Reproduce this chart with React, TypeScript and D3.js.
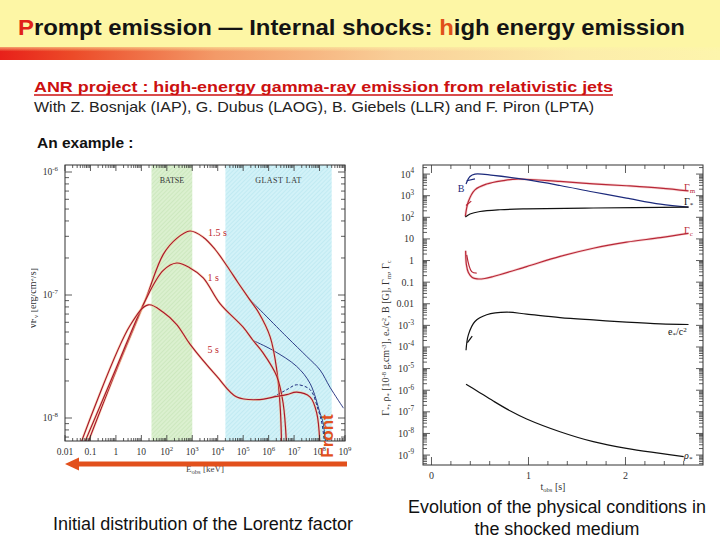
import React from 'react';
import * as d3 from 'd3';

// ---------- header texts ----------
const titleText = ['P', 'rompt emission — Internal shocks: ', 'h', 'igh energy emission'];
const anrText = 'ANR project : high-energy gamma-ray emission from relativistic jets';
const withText = 'With Z. Bosnjak (IAP), G. Dubus (LAOG), B. Giebels (LLR) and F. Piron (LPTA)';
const exampleText = 'An example :';
const captionLeft = 'Initial distribution of the Lorentz factor';
const captionRight = ['Evolution of the physical conditions in', 'the shocked medium'];

// ---------- left chart (spectra) ----------
const leftXTicks = [0.01, 0.1, 1, 10, 1e2, 1e3, 1e4, 1e5, 1e6, 1e7, 1e8, 1e9];
const leftXLabels: [string, string][] = [['0.01', ''], ['0.1', ''], ['1', ''], ['10', ''], ['10', '2'], ['10', '3'], ['10', '4'], ['10', '5'], ['10', '6'], ['10', '7'], ['10', '8'], ['10', '9']];
const leftYTicks = [1e-6, 1e-7, 1e-8];
const leftYLabels = ['-6', '-7', '-8'];
const batseBand = [25, 1000];
const glastBand = [2e4, 3e8];
// [log10 E(keV), log10 νFν]
const spec15sRed = [[-1.08, -8.19], [0.0, -7.62], [1.14, -7.05], [1.86, -6.67], [2.39, -6.54], [2.91, -6.48], [3.43, -6.53], [3.9, -6.63], [4.35, -6.76], [4.8, -6.9], [5.23, -7.03], [5.6, -7.14], [6.06, -7.34], [6.32, -7.61], [6.46, -7.93], [6.51, -8.25]];
const spec15sBlue = [[5.23, -7.03], [6.71, -7.34], [7.5, -7.5], [8.02, -7.61], [8.41, -7.75], [8.94, -7.92]];
const spec1sRed = [[-1.21, -8.19], [0.0, -7.6], [1.14, -7.05], [1.86, -6.8], [2.39, -6.74], [2.91, -6.78], [3.43, -6.86], [4.09, -7.07], [4.99, -7.26], [5.39, -7.37], [5.78, -7.47], [6.32, -7.66], [6.57, -7.88], [6.71, -8.25]];
const spec1sBlue = [[5.39, -7.37], [6.17, -7.45], [7.1, -7.58], [7.63, -7.72], [8.02, -7.96], [8.14, -8.04], [8.26, -8.25]];
const spec5sRed = [[-1.35, -8.19], [0.55, -7.25], [1.27, -7.08], [1.86, -7.14], [2.39, -7.24], [2.91, -7.4], [3.96, -7.66], [4.75, -7.83], [5.66, -7.85], [6.17, -7.83], [6.71, -7.81], [7.1, -7.79], [7.63, -7.83], [7.89, -7.96], [8.02, -8.25]];
const spec5sBlue = [[6.17, -7.83], [6.71, -7.77], [7.1, -7.73], [7.63, -7.77], [7.94, -7.93], [8.09, -8.04], [8.22, -8.25]];
const specLabels = [{ t: '1.5  s', e: 3.62, f: -6.52 }, { t: '1  s', e: 3.6, f: -6.89 }, { t: '5  s', e: 3.6, f: -7.47 }];

// ---------- right chart (physical conditions) ----------
const rightXTicks = [0, 1, 2];
const rightYTicks = [1e4, 1e3, 1e2, 10, 1, 0.1, 0.01, 1e-3, 1e-4, 1e-5, 1e-6, 1e-7, 1e-8, 1e-9];
const rightYLabels: [string, string][] = [['10', '4'], ['10', '3'], ['10', '2'], ['10', ''], ['1', ''], ['0.1', ''], ['0.01', ''], ['10', '-3'], ['10', '-4'], ['10', '-5'], ['10', '-6'], ['10', '-7'], ['10', '-8'], ['10', '-9']];
// [t_obs (s), log10 value]
const seriesB = [[0.356, 3.54], [0.397, 3.89], [0.448, 4.0], [0.637, 3.94], [0.981, 3.74], [1.325, 3.47], [1.668, 3.17], [2.01, 2.89], [2.36, 2.61], [2.65, 2.47]];
const seriesB2 = [[0.363, 3.69], [0.448, 3.78]];
const seriesGm = [[0.349, 2.04], [0.38, 2.73], [0.448, 3.27], [0.569, 3.54], [0.74, 3.7], [0.878, 3.77], [1.325, 3.66], [1.668, 3.55], [2.01, 3.46], [2.36, 3.35], [2.65, 3.22]];
const seriesGm2 = [[0.356, 2.55], [0.41, 2.75]];
const seriesGs = [[0.349, 2.01], [0.397, 2.15], [0.5, 2.27], [0.706, 2.35], [0.981, 2.39], [1.668, 2.43], [2.65, 2.47]];
const seriesGc = [[0.352, 0.45], [0.36, -0.2], [0.38, -0.55], [0.42, -0.78], [0.47, -0.85], [0.55, -0.83], [0.637, -0.74], [0.981, -0.28], [1.325, 0.19], [1.668, 0.57], [2.01, 0.85], [2.36, 1.06], [2.65, 1.26]];
const seriesGc2 = [[0.363, 0.26], [0.414, -0.51], [0.466, -0.58]];
const seriesE = [[0.356, -4.15], [0.38, -3.44], [0.448, -2.82], [0.569, -2.51], [0.776, -2.39], [0.981, -2.48], [1.325, -2.64], [1.668, -2.75], [2.01, -2.85], [2.36, -2.93], [2.65, -2.96]];
const seriesE2 = [[0.37, -3.8], [0.42, -3.5]];
const seriesRho = [[0.356, -5.72], [0.466, -6.02], [0.637, -6.5], [0.809, -6.95], [0.981, -7.33], [1.325, -7.92], [1.668, -8.38], [2.01, -8.69], [2.36, -8.92], [2.6, -9.07]];

// ---------- scales ----------
const xL = d3.scaleLog().domain([0.01, 1e9]).range([65, 345]);
const yL = d3.scaleLog().domain([10 ** -8.187, 10 ** -5.943]).range([441, 165]);
const xR = d3.scaleLinear().domain([-0.0876, 2.799]).range([423, 703]);
const yR = d3.scaleLog().domain([10 ** -9.46, 10 ** 4.42]).range([465, 165]);

const lineL = d3.line<number[]>().x(d => xL(10 ** d[0])).y(d => yL(10 ** d[1])).curve(d3.curveCatmullRom.alpha(0.5));
const lineR = d3.line<number[]>().x(d => xR(d[0])).y(d => yR(10 ** d[1])).curve(d3.curveCatmullRom.alpha(0.5));

function logMinor(lo: number, hi: number) {
  const out: { v: number; major: boolean }[] = [];
  for (let e = Math.floor(Math.log10(lo)); e <= Math.ceil(Math.log10(hi)); e++) {
    for (let m = 1; m <= 9; m++) {
      const v = m * 10 ** e;
      if (v >= lo * 0.999 && v <= hi * 1.001) out.push({ v, major: m === 1 });
    }
  }
  return out;
}

const SERIF = '"Liberation Serif", "DejaVu Serif", serif';
const SANS = '"Liberation Sans", Arial, sans-serif';

function Pow({ x, y, base, exp, anchor = 'middle', size = 10, fill = '#333' }: any) {
  return (
    <text x={x} y={y} textAnchor={anchor} fontSize={size} fontFamily={SERIF} fill={fill}>
      {base}
      {exp ? <tspan dy={-size * 0.42} fontSize={size * 0.72}>{exp}</tspan> : null}
    </text>
  );
}

export default function App() {
  const [lx0, lx1] = xL.range();
  const [ly0, ly1] = yL.range();
  const [rx0, rx1] = xR.range();
  const [ry0, ry1] = yR.range();

  const lxTicks = logMinor(0.01, 1e9);
  const lyTicks = logMinor(yL.domain()[0], yL.domain()[1]);
  const ryTicks = logMinor(yR.domain()[0], yR.domain()[1]);
  const rxTicks = d3.range(0, 2.8, 0.2).map(v => ({ v, major: Math.abs(v - Math.round(v)) < 1e-6 }));

  const redC = '#a8162c';
  const halo = '#f6c58e';
  const blueC = '#1c2a7c';

  const redPath = (d: number[][], key: string) => (
    <g key={key}>
      <path d={lineL(d) || ''} fill="none" stroke={halo} strokeWidth={2.6} opacity={0.55} />
      <path d={lineL(d) || ''} fill="none" stroke={redC} strokeWidth={1.15} />
    </g>
  );

  return (
    <svg width={720} height={540} viewBox="0 0 720 540" style={{ position: 'absolute', left: 0, top: 0, display: 'block', background: '#fff' }}>
      <defs>
        <linearGradient id="bar" x1="0" x2="1" y1="0" y2="0">
          <stop offset="0%" stopColor="#e8201a" />
          <stop offset="10%" stopColor="#ec4a28" />
          <stop offset="30%" stopColor="#f39a68" />
          <stop offset="55%" stopColor="#f9cf98" />
          <stop offset="80%" stopColor="#fcecaa" />
          <stop offset="100%" stopColor="#fdf5ac" />
        </linearGradient>
        <linearGradient id="barV" x1="0" x2="0" y1="0" y2="1">
          <stop offset="0%" stopColor="#fdf6a5" stopOpacity={0.6} />
          <stop offset="35%" stopColor="#fdf6a5" stopOpacity={0} />
          <stop offset="100%" stopColor="#ffffff" stopOpacity={0} />
        </linearGradient>
        <pattern id="hatchG" width={3} height={3} patternUnits="userSpaceOnUse" patternTransform="rotate(45)">
          <rect width={3} height={3} fill="#dbf0cf" />
          <line x1={0} y1={0} x2={0} y2={3} stroke="#bfe0b0" strokeWidth={1} />
        </pattern>
        <pattern id="hatchC" width={3} height={3} patternUnits="userSpaceOnUse" patternTransform="rotate(45)">
          <rect width={3} height={3} fill="#d2f2f8" />
          <line x1={0} y1={0} x2={0} y2={3} stroke="#b0e2ec" strokeWidth={1} />
        </pattern>
        <clipPath id="clipL"><rect x={lx0} y={ly1} width={lx1 - lx0} height={ly0 - ly1} /></clipPath>
        <clipPath id="clipYT"><rect x={31} y={150} width={40} height={320} /></clipPath>
      </defs>

      {/* header */}
      <rect x={0} y={0} width={720} height={48} fill="#fdf6a5" />
      <rect x={0} y={47} width={720} height={13} fill="url(#bar)" />
      <rect x={0} y={47} width={720} height={13} fill="url(#barV)" />
      <text x={18} y={35} fontFamily={SANS} fontSize={21.5} fontWeight="bold" fill="#141414" textLength={667} lengthAdjust="spacingAndGlyphs">
        <tspan fill="#e0231a">{titleText[0]}</tspan>
        <tspan>{titleText[1]}</tspan>
        <tspan fill="#e0501a">{titleText[2]}</tspan>
        <tspan>{titleText[3]}</tspan>
      </text>
      <text x={34} y={92} fontFamily={SANS} fontSize={14.5} fontWeight="bold" fill="#cc1010" textLength={579} lengthAdjust="spacingAndGlyphs">{anrText}</text>
      <line x1={34} x2={613} y1={95} y2={95} stroke="#cc1010" strokeWidth={1.3} />
      <text x={34} y={112} fontFamily={SANS} fontSize={14.5} fill="#222" textLength={560} lengthAdjust="spacingAndGlyphs">{withText}</text>
      <text x={37} y={148} fontFamily={SANS} fontSize={15.5} fontWeight="bold" fill="#111">{exampleText}</text>

      {/* ---------- left chart ---------- */}
      <rect x={xL(batseBand[0])} y={ly1} width={xL(batseBand[1]) - xL(batseBand[0])} height={ly0 - ly1} fill="url(#hatchG)" />
      <rect x={xL(glastBand[0])} y={ly1} width={xL(glastBand[1]) - xL(glastBand[0])} height={ly0 - ly1} fill="url(#hatchC)" />
      <text x={(xL(batseBand[0]) + xL(batseBand[1])) / 2} y={183} textAnchor="middle" fontSize={8} fontFamily={SERIF} fill="#333">BATSE</text>
      <text x={(xL(glastBand[0]) + xL(glastBand[1])) / 2} y={183} textAnchor="middle" fontSize={8} fontFamily={SERIF} fill="#333" letterSpacing={0.5}>GLAST  LAT</text>

      <g clipPath="url(#clipL)">
        <path d={lineL(spec15sBlue) || ''} fill="none" stroke={blueC} strokeWidth={0.9} />
        <path d={lineL(spec1sBlue) || ''} fill="none" stroke={blueC} strokeWidth={0.9} />
        <path d={lineL(spec5sBlue) || ''} fill="none" stroke={blueC} strokeWidth={1} strokeDasharray="3,2" />
        {redPath(spec15sRed, 'a')}
        {redPath(spec1sRed, 'b')}
        {redPath(spec5sRed, 'c')}
      </g>
      {specLabels.map(l => (
        <text key={l.t} x={xL(10 ** l.e)} y={yL(10 ** l.f)} fontSize={10} fontFamily={SERIF} fill="#c0282e">{l.t}</text>
      ))}

      {/* frame & ticks */}
      <rect x={lx0} y={ly1} width={lx1 - lx0} height={ly0 - ly1} fill="none" stroke="#333" strokeWidth={1} />
      {lxTicks.map((t, i) => {
        const x = xL(t.v);
        const len = t.major ? 6 : 3;
        return (
          <g key={'lx' + i} stroke="#333" strokeWidth={0.8}>
            <line x1={x} x2={x} y1={ly0} y2={ly0 - len} />
            <line x1={x} x2={x} y1={ly1} y2={ly1 + len} />
          </g>
        );
      })}
      {lyTicks.map((t, i) => {
        const y = yL(t.v);
        const len = t.major ? 7 : 4;
        return (
          <g key={'ly' + i} stroke="#333" strokeWidth={0.8}>
            <line x1={lx0} x2={lx0 + len} y1={y} y2={y} />
            <line x1={lx1} x2={lx1 - len} y1={y} y2={y} />
          </g>
        );
      })}
      {leftXTicks.map((v, i) => (
        <Pow key={'lxl' + i} x={xL(v)} y={455} base={leftXLabels[i][0]} exp={leftXLabels[i][1]} size={9.5} />
      ))}
      {leftYTicks.map((v, i) => (
        <Pow key={'lyl' + i} x={58} y={yL(v) + 3} base="10" exp={leftYLabels[i]} anchor="end" size={9.5} />
      ))}
      <g clipPath="url(#clipYT)">
        <text transform="translate(36,298) rotate(-90)" textAnchor="middle" fontSize={10} fontFamily={SERIF} fill="#333">
          νF<tspan dy={2} fontSize={7}>ν</tspan><tspan dy={-2}> [erg/cm</tspan><tspan dy={-3} fontSize={7}>2</tspan><tspan dy={3}>/s]</tspan>
        </text>
      </g>
      <text x={205} y={472} textAnchor="middle" fontSize={9} fontFamily={SERIF} fill="#444">
        E<tspan dy={2} fontSize={6.5}>obs</tspan><tspan dy={-2}> [keV]</tspan>
      </text>
      {/* arrow */}
      <line x1={347} x2={76} y1={464} y2={464} stroke="#e2501c" strokeWidth={5} />
      <path d="M65,464 L79,457.5 L79,470.5 Z" fill="#e2501c" />
      <text transform="translate(333,436) rotate(-90)" textAnchor="middle" fontSize={17} fontFamily={SANS} fontWeight="bold" fill="#e2501c">Front</text>

      {/* ---------- right chart ---------- */}
      <rect x={rx0} y={ry1} width={rx1 - rx0} height={ry0 - ry1} fill="none" stroke="#333" strokeWidth={1} />
      {ryTicks.map((t, i) => {
        const y = yR(t.v);
        const len = t.major ? 7 : 4;
        return (
          <g key={'ry' + i} stroke="#333" strokeWidth={0.8}>
            <line x1={rx0} x2={rx0 + len} y1={y} y2={y} />
            <line x1={rx1} x2={rx1 - len} y1={y} y2={y} />
          </g>
        );
      })}
      {rxTicks.map((t, i) => {
        const x = xR(t.v);
        const len = t.major ? 8 : 4;
        return (
          <g key={'rx' + i} stroke="#333" strokeWidth={0.8}>
            <line x1={x} x2={x} y1={ry0} y2={ry0 - len} />
            <line x1={x} x2={x} y1={ry1} y2={ry1 + len} />
          </g>
        );
      })}
      {rightYTicks.map((v, i) => (
        <Pow key={'ryl' + i} x={414} y={yR(v) + 3.5} base={rightYLabels[i][0]} exp={rightYLabels[i][1]} anchor="end" size={10} />
      ))}
      {rightXTicks.map(v => (
        <Pow key={'rxl' + v} x={xR(v)} y={479} base={String(v)} exp="" size={10} />
      ))}
      <text x={553} y={490} textAnchor="middle" fontSize={10} fontFamily={SERIF} fill="#333">
        t<tspan dy={2} fontSize={6.5}>obs</tspan><tspan dy={-2}> [s]</tspan>
      </text>
      <text transform="translate(389,338) rotate(-90)" textAnchor="middle" fontSize={10} fontFamily={SERIF} fill="#333">
        Γ<tspan dy={2} fontSize={6.5}>*</tspan><tspan dy={-2}>, ρ</tspan><tspan dy={2} fontSize={6.5}>*</tspan>
        <tspan dy={-2}> [10</tspan><tspan dy={-3} fontSize={6.5}>-8</tspan><tspan dy={3}> g.cm</tspan><tspan dy={-3} fontSize={6.5}>-3</tspan>
        <tspan dy={3}>], e</tspan><tspan dy={2} fontSize={6.5}>*</tspan><tspan dy={-2}>/c</tspan><tspan dy={-3} fontSize={6.5}>2</tspan>
        <tspan dy={3}>, B [G], Γ</tspan><tspan dy={2} fontSize={6.5}>m</tspan><tspan dy={-2}>, Γ</tspan><tspan dy={2} fontSize={6.5}>c</tspan>
      </text>

      <g fill="none" strokeWidth={1.2}>
        <path d={lineR(seriesGm) || ''} stroke="#f2b8b8" strokeWidth={2.6} opacity={0.6} />
        <path d={lineR(seriesGc) || ''} stroke="#f2b8b8" strokeWidth={2.6} opacity={0.6} />
        <path d={lineR(seriesGm) || ''} stroke="#b82838" />
        <path d={lineR(seriesGm2) || ''} stroke="#b82838" />
        <path d={lineR(seriesGc) || ''} stroke="#b82838" />
        <path d={lineR(seriesGc2) || ''} stroke="#b82838" />
        <path d={lineR(seriesB) || ''} stroke={blueC} />
        <path d={lineR(seriesB2) || ''} stroke={blueC} />
        <path d={lineR(seriesGs) || ''} stroke="#111" />
        <path d={lineR(seriesE) || ''} stroke="#111" />
        <path d={lineR(seriesE2) || ''} stroke="#111" />
        <path d={lineR(seriesRho) || ''} stroke="#111" />
      </g>
      <text x={461} y={192} textAnchor="middle" fontSize={10} fontFamily={SERIF} fill={blueC}>B</text>
      <text x={684} y={191} fontSize={10} fontFamily={SERIF} fill="#b82838">Γ<tspan dy={2} fontSize={7}>m</tspan></text>
      <text x={684} y={205} fontSize={10} fontFamily={SERIF} fill="#111">Γ<tspan dy={2} fontSize={7}>*</tspan></text>
      <text x={684} y={234} fontSize={10} fontFamily={SERIF} fill="#b82838">Γ<tspan dy={2} fontSize={7}>c</tspan></text>
      <text x={668} y={335} fontSize={10} fontFamily={SERIF} fill="#111">e<tspan dy={2} fontSize={7}>*</tspan><tspan dy={-2}>/c</tspan><tspan dy={-3} fontSize={7}>2</tspan></text>
      <text x={684} y={459} fontSize={10} fontFamily={SERIF} fontStyle="italic" fill="#111">ρ<tspan dy={2} fontSize={7}>*</tspan></text>

      {/* captions */}
      <text x={53} y={530} fontFamily={SANS} fontSize={17.5} fill="#111" textLength={300} lengthAdjust="spacingAndGlyphs">{captionLeft}</text>
      <text x={557} y={513} textAnchor="middle" fontFamily={SANS} fontSize={17.5} fill="#111" textLength={298} lengthAdjust="spacingAndGlyphs">{captionRight[0]}</text>
      <text x={557} y={535} textAnchor="middle" fontFamily={SANS} fontSize={17.5} fill="#111" textLength={165} lengthAdjust="spacingAndGlyphs">{captionRight[1]}</text>
    </svg>
  );
}
